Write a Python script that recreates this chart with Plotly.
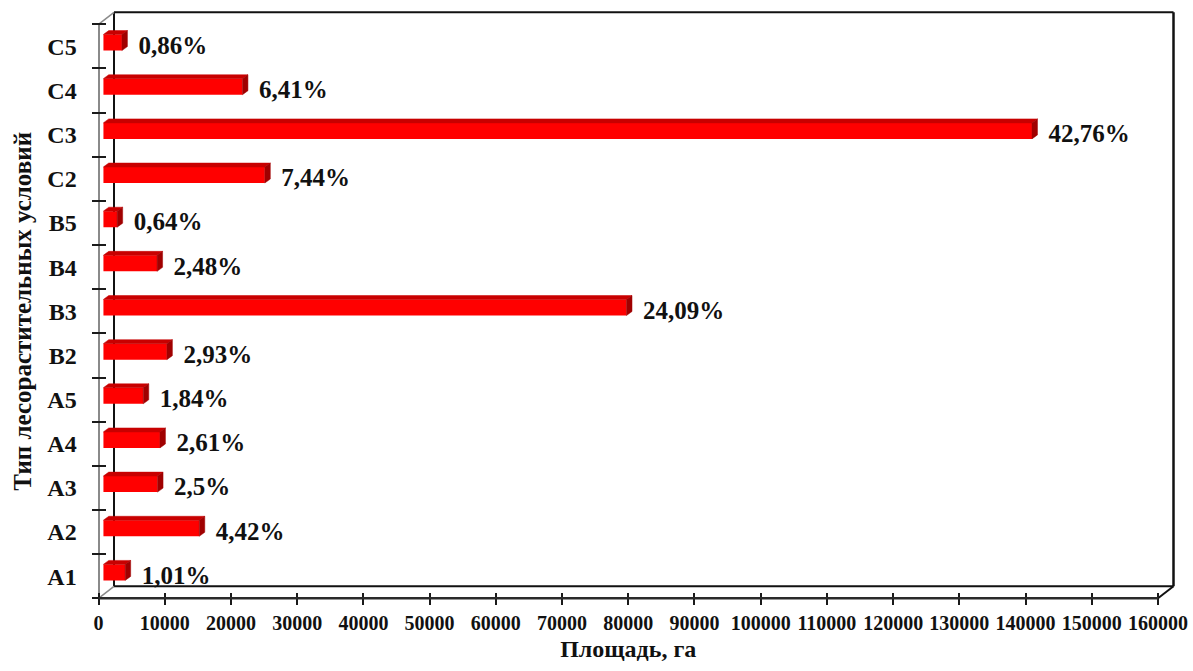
import plotly.graph_objects as go

W, H = 1193, 671

categories = ["A1", "A2", "A3", "A4", "A5", "B2", "B3", "B4", "B5", "C2", "C3", "C4", "C5"]
area_ha = [3310, 14500, 8200, 8560, 6040, 9610, 79020, 8130, 2100, 24400, 140250, 21020, 2820]
share_labels = ["1,01%", "4,42%", "2,5%", "2,61%", "1,84%", "2,93%", "24,09%",
                "2,48%", "0,64%", "7,44%", "42,76%", "6,41%", "0,86%"]
x_ticks = list(range(0, 160001, 10000))
X_MAX = 160000

FONT = "Liberation Serif"
RED = "#ff0000"
RED_TOP = "#c80000"
RED_SIDE = "#a00000"


def px_x(p):
    return p / W


def px_y(p):
    return 1 - p / H


# front plane of the 3-D box, in pixels
FX0, FX1 = 98.5, 1158.0
FY0, FY1 = 24.3, 598.3
WALL_DX, WALL_DY = 15.5, -12.0      # front plane -> back wall
BAR_DX, BAR_DY = 4.75, -3.8         # front plane -> bar front faces
FACE_DX, FACE_DY = 5.5, -4.0        # bar front face -> bar back face
BAR_PX = 16.0

n = len(categories)
slot_px = (FY1 - FY0) / n
xscale = (FX1 - FX0) / X_MAX
idx = list(range(n))
bar_w = BAR_PX / slot_px
dxu = FACE_DX / xscale
dyu = -FACE_DY / slot_px

fig = go.Figure()

# front faces of the bars
fig.add_trace(go.Bar(
    x=area_ha, y=idx, orientation="h", width=bar_w,
    marker=dict(color=RED, line=dict(width=0)),
    hoverinfo="skip", xaxis="x", yaxis="y",
))

# top and end faces give the bars their depth
top_x, top_y, side_x, side_y = [], [], [], []
for i, v in zip(idx, area_ha):
    yt, yb = i + bar_w / 2, i - bar_w / 2
    top_x += [0, dxu, v + dxu, v, 0, None]
    top_y += [yt, yt + dyu, yt + dyu, yt, yt, None]
    side_x += [v, v + dxu, v + dxu, v, v, None]
    side_y += [yt, yt + dyu, yb + dyu, yb, yt, None]

fig.add_trace(go.Scatter(x=top_x, y=top_y, mode="lines", fill="toself",
                         fillcolor=RED_TOP, line=dict(color=RED_TOP, width=0.5),
                         hoverinfo="skip", xaxis="x", yaxis="y"))
fig.add_trace(go.Scatter(x=side_x, y=side_y, mode="lines", fill="toself",
                         fillcolor=RED_SIDE, line=dict(color=RED_SIDE, width=0.5),
                         hoverinfo="skip", xaxis="x", yaxis="y"))

# percentage labels
fig.add_trace(go.Scatter(
    x=[v + dxu + 11 / xscale for v in area_ha],
    y=[i - 5.0 / slot_px for i in idx],
    mode="text", text=share_labels, textposition="middle right",
    textfont=dict(family=FONT, size=25, color="#111111", weight="bold"),
    hoverinfo="skip", xaxis="x", yaxis="y",
))

# anchors for the front axes
fig.add_trace(go.Scatter(x=[0], y=[0], mode="markers", marker=dict(opacity=0),
                         hoverinfo="skip", xaxis="x2", yaxis="y2"))
fig.add_trace(go.Scatter(x=[0], y=[0], mode="markers", marker=dict(opacity=0),
                         hoverinfo="skip", xaxis="x2", yaxis="y3"))

hidden = dict(showgrid=False, zeroline=False, showticklabels=False, ticks="",
              showline=False, automargin=False)

fig.update_layout(
    template="none",
    width=W, height=H,
    margin=dict(l=0, r=0, t=0, b=0, pad=0),
    paper_bgcolor="white", plot_bgcolor="rgba(0,0,0,0)",
    showlegend=False,
    font=dict(family=FONT, color="#111111"),
    xaxis=dict(domain=[px_x(FX0 + BAR_DX), px_x(FX1 + BAR_DX)], range=[0, X_MAX],
               anchor="y", **hidden),
    yaxis=dict(domain=[px_y(FY1 + BAR_DY), px_y(FY0 + BAR_DY)], range=[-0.5, n - 0.5],
               anchor="x", **hidden),
    xaxis2=dict(
        domain=[px_x(FX0), px_x(FX1)], range=[0, X_MAX],
        anchor="free", position=px_y(FY1 - 6), automargin=False,
        tickmode="array", tickvals=x_ticks, ticktext=[str(t) for t in x_ticks],
        ticks="outside", ticklen=12, tickwidth=2, tickcolor="#1a1a1a",
        showline=False, showgrid=False, zeroline=False,
        tickfont=dict(family=FONT, size=20, color="#111111", weight="bold"),
        ticklabelstandoff=1,
        title=dict(text="Площадь, га", standoff=6,
                   font=dict(family=FONT, size=24, color="#111111", weight="bold")),
    ),
    yaxis2=dict(
        domain=[px_y(FY1), px_y(FY0)], range=[-0.5, n - 0.5],
        anchor="free", position=px_x(FX0), automargin=False,
        tickmode="array", tickvals=idx, ticktext=categories,
        ticks="outside", ticklen=16, tickcolor="rgba(0,0,0,0)",
        showline=True, linecolor="#8a8a8a", linewidth=2,
        showgrid=False, zeroline=False,
        tickfont=dict(family=FONT, size=24, color="#111111", weight="bold"),
        title=dict(text="Тип лесорастительных условий", standoff=8,
                   font=dict(family=FONT, size=25, color="#111111", weight="bold")),
    ),
    yaxis3=dict(
        domain=[px_y(FY1), px_y(FY0)], range=[-0.5, n - 0.5],
        anchor="free", position=px_x(FX0 + 7), automargin=False,
        tickmode="array", tickvals=[i - 0.5 for i in range(n + 1)],
        ticks="outside", ticklen=14, tickwidth=2, tickcolor="#1a1a1a",
        showticklabels=False, showline=False, showgrid=False, zeroline=False,
    ),
)

# 3-D box: back wall, floor edges and connecting diagonals
BX0, BX1 = FX0 + WALL_DX, FX1 + WALL_DX
BY0, BY1 = FY0 + WALL_DY, FY1 + WALL_DY


def seg(x0, y0, x1, y1, color, width, layer="below"):
    fig.add_shape(type="line", xref="paper", yref="paper",
                  x0=px_x(x0), y0=px_y(y0), x1=px_x(x1), y1=px_y(y1),
                  line=dict(color=color, width=width), layer=layer)


seg(BX0, BY0, BX1, BY0, "#111111", 2)       # back top
seg(BX1, BY0, BX1, BY1, "#111111", 2.5)     # back right
seg(BX0, BY0, BX0, BY1, "#111111", 2)       # back left
seg(BX0, BY1, BX1, BY1, "#111111", 2)       # back floor
seg(FX0, FY0, BX0, BY0, "#8a8a8a", 1.5)     # top-left diagonal
seg(FX0, FY1, BX0, BY1, "#8a8a8a", 1.5)     # bottom-left diagonal
seg(FX1, FY1, BX1, BY1, "#111111", 2)       # bottom-right diagonal
seg(FX0, FY1, FX1, FY1, "#2a2a2a", 2.5, layer="above")  # front x axis line

fig.write_html("out.html")
